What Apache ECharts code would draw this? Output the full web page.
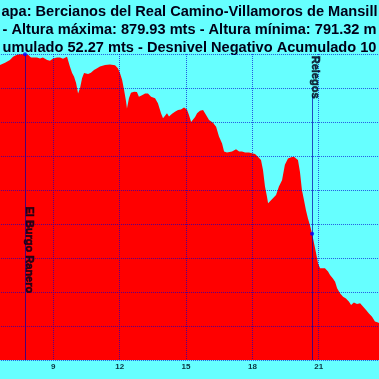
<!DOCTYPE html>
<html>
<head>
<meta charset="utf-8">
<script src="https://cdn.jsdelivr.net/npm/echarts@6/dist/echarts.min.js"></script>
<style>
html,body{margin:0;padding:0;background:#66ffff;overflow:hidden;}
#c{width:379px;height:379px;}
</style>
</head>
<body>
<div id="c"></div>
<script>
// Title fragments visible in the picture
var titleLines = [
  'apa: Bercianos del Real Camino-Villamoros de Mansill',
  '- Altura máxima: 879.93 mts - Altura mínima: 791.32 m',
  'umulado 52.27 mts - Desnivel Negativo Acumulado 10'
];
// X axis tick labels (km)
var xTickLabels = ['9', '12', '15', '18', '21'];
// Profile: distance (km) and altitude (m)
var distKm = [6.0, 6.59, 6.82, 7.04, 7.18, 7.36, 7.49, 7.72, 7.86, 7.99, 8.08, 8.26, 8.40, 8.53, 8.72, 8.85, 8.99,
  9.17, 9.30, 9.44, 9.62, 9.75, 9.85, 9.94, 10.03, 10.12, 10.21, 10.30, 10.39, 10.48, 10.57, 10.70, 10.84, 10.98,
  11.11, 11.34, 11.56, 11.79, 11.92, 12.02, 12.11, 12.20, 12.29, 12.33, 12.42, 12.51, 12.65, 12.78, 12.87, 13.01,
  13.15, 13.28, 13.42, 13.60, 13.73, 13.87, 13.96, 14.05, 14.14, 14.23, 14.37, 14.50, 14.64, 14.77, 14.91, 15.04,
  15.13, 15.23, 15.32, 15.41, 15.50, 15.63, 15.77, 15.90, 16.04, 16.22, 16.36, 16.49, 16.63, 16.72, 16.85, 16.94,
  17.08, 17.26, 17.40, 17.53, 17.67, 17.85, 17.98, 18.12, 18.25, 18.39, 18.48, 18.57, 18.66, 18.71, 18.80, 18.93,
  19.07, 19.20, 19.34, 19.47, 19.61, 19.75, 19.88, 19.97, 20.06, 20.15, 20.24, 20.33, 20.42, 20.51, 20.60, 20.70,
  20.79, 20.88, 20.97, 21.06, 21.15, 21.28, 21.42, 21.51, 21.64, 21.74, 21.83, 21.96, 22.10, 22.23, 22.37, 22.46,
  22.59, 22.73, 22.87, 23.00, 23.14, 23.27, 23.41, 23.54, 23.68, 24.0];
var altitude = [875.5, 876.8, 877.4, 878.2, 879.2, 879.8, 879.9, 879.93, 879.8, 879.0, 879.2, 879.0, 878.7, 879.0, 878.2, 878.0, 878.7,
  879.0, 879.0, 878.6, 879.2, 876.3, 874.4, 873.3, 871.5, 868.4, 870.0, 872.9, 874.4, 874.5, 874.1, 874.5, 875.3, 875.8,
  876.3, 876.8, 876.9, 876.7, 875.8, 874.3, 872.4, 869.4, 866.0, 864.0, 867.0, 868.6, 868.9, 868.8, 867.4, 867.9,
  868.4, 868.4, 867.4, 867.0, 865.5, 862.6, 861.1, 861.1, 862.6, 861.6, 862.4, 863.0, 863.5, 863.7, 864.3, 863.7,
  862.1, 860.0, 860.0, 861.5, 862.6, 863.3, 863.5, 862.1, 860.6, 859.8, 858.6, 855.7, 853.7, 851.3, 851.0, 851.3,
  851.3, 852.0, 851.3, 851.3, 851.0, 851.0, 850.8, 850.6, 849.8, 848.8, 845.9, 841.0, 838.0, 836.1, 836.6, 837.6,
  838.5, 841.0, 842.9, 847.4, 849.3, 849.6, 849.8, 850.3, 848.8, 845.4, 840.0, 837.1, 834.1, 831.7, 829.7, 827.1,
  824.3, 821.4, 818.4, 817.0, 817.0, 817.0, 816.0, 815.0, 814.0, 813.0, 811.1, 809.6, 808.6, 808.1, 807.1, 806.2,
  806.9, 806.5, 806.7, 805.7, 804.7, 803.7, 802.7, 801.3, 801.0, 800.4];
// Places along the route
var placeNames = ['El Burgo Ranero', 'Relegos'];
var placeKm = [7.72, 20.70];
var placeAlt = [879.93, 827.1];

var profile = distKm.map(function (d, i) { return [d, altitude[i]]; });
var gridColor = 'rgba(0,0,210,0.65)';
var textColor = '#000018';

var chart = echarts.init(document.getElementById('c'), null, {renderer: 'canvas'});
chart.setOption({
  backgroundColor: '#66ffff',
  animation: false,
  title: {
    text: titleLines.join('\n'),
    left: 'center',
    top: -2,
    textStyle: {fontSize: 14.6, fontWeight: 'bold', fontFamily: 'Liberation Sans', color: textColor, lineHeight: 18}
  },
  grid: {left: -13.06, right: -6.1, top: 54, bottom: 19, outerBoundsMode: 'none', containLabel: false},
  xAxis: {
    type: 'value', min: 6, max: 24, interval: 3, zlevel: 1, z: 5,
    axisLine: {show: false}, axisTick: {show: false},
    axisLabel: {
      margin: 3, fontSize: 8, fontWeight: 'bold', fontFamily: 'Liberation Sans', color: '#0b3340',
      showMinLabel: false, showMaxLabel: false,
      formatter: function (v) { var s = String(v); return xTickLabels.indexOf(s) >= 0 ? s : ''; }
    },
    splitLine: {show: true, lineStyle: {color: gridColor, type: [1, 1], width: 1}}
  },
  yAxis: {
    type: 'value', min: 790, max: 880, interval: 10, zlevel: 1, z: 5,
    axisLine: {show: false}, axisTick: {show: false}, axisLabel: {show: false},
    splitLine: {show: true, lineStyle: {color: gridColor, type: [1, 1], width: 1}}
  },
  series: [
    {
      type: 'line', data: profile, symbol: 'none', zlevel: 0, z: 1,
      lineStyle: {width: 0, color: '#ff0000'},
      areaStyle: {color: '#ff0000', opacity: 1}
    },
    {
      type: 'scatter', zlevel: 2, z: 6, symbol: 'circle', symbolSize: 4,
      itemStyle: {color: '#0000ff'},
      data: placeKm.map(function (k, i) { return [k, placeAlt[i]]; }),
      markLine: {
        silent: true, symbol: 'none', label: {show: false},
        lineStyle: {color: 'rgba(0,0,170,0.7)', type: 'solid', width: 1},
        data: [
          [{coord: [placeKm[0], 880]}, {coord: [placeKm[0], 790]}],
          [{coord: [placeKm[1], 867.9]}, {coord: [placeKm[1], 790]}]
        ]
      }
    },
    {
      type: 'scatter', zlevel: 2, z: 7, symbolSize: 0,
      data: [
        {name: placeNames[0], value: [placeKm[0] + 0.18, 822.4]},
        {name: placeNames[1], value: [placeKm[1] + 0.13, 873.2]}
      ],
      label: {
        show: true, position: 'inside', rotate: -90, formatter: '{b}',
        fontSize: 11, fontWeight: 'bold', fontFamily: 'Liberation Sans', color: textColor,
        textBorderWidth: 0.6, textBorderColor: textColor
      }
    }
  ]
});
</script>
</body>
</html>
